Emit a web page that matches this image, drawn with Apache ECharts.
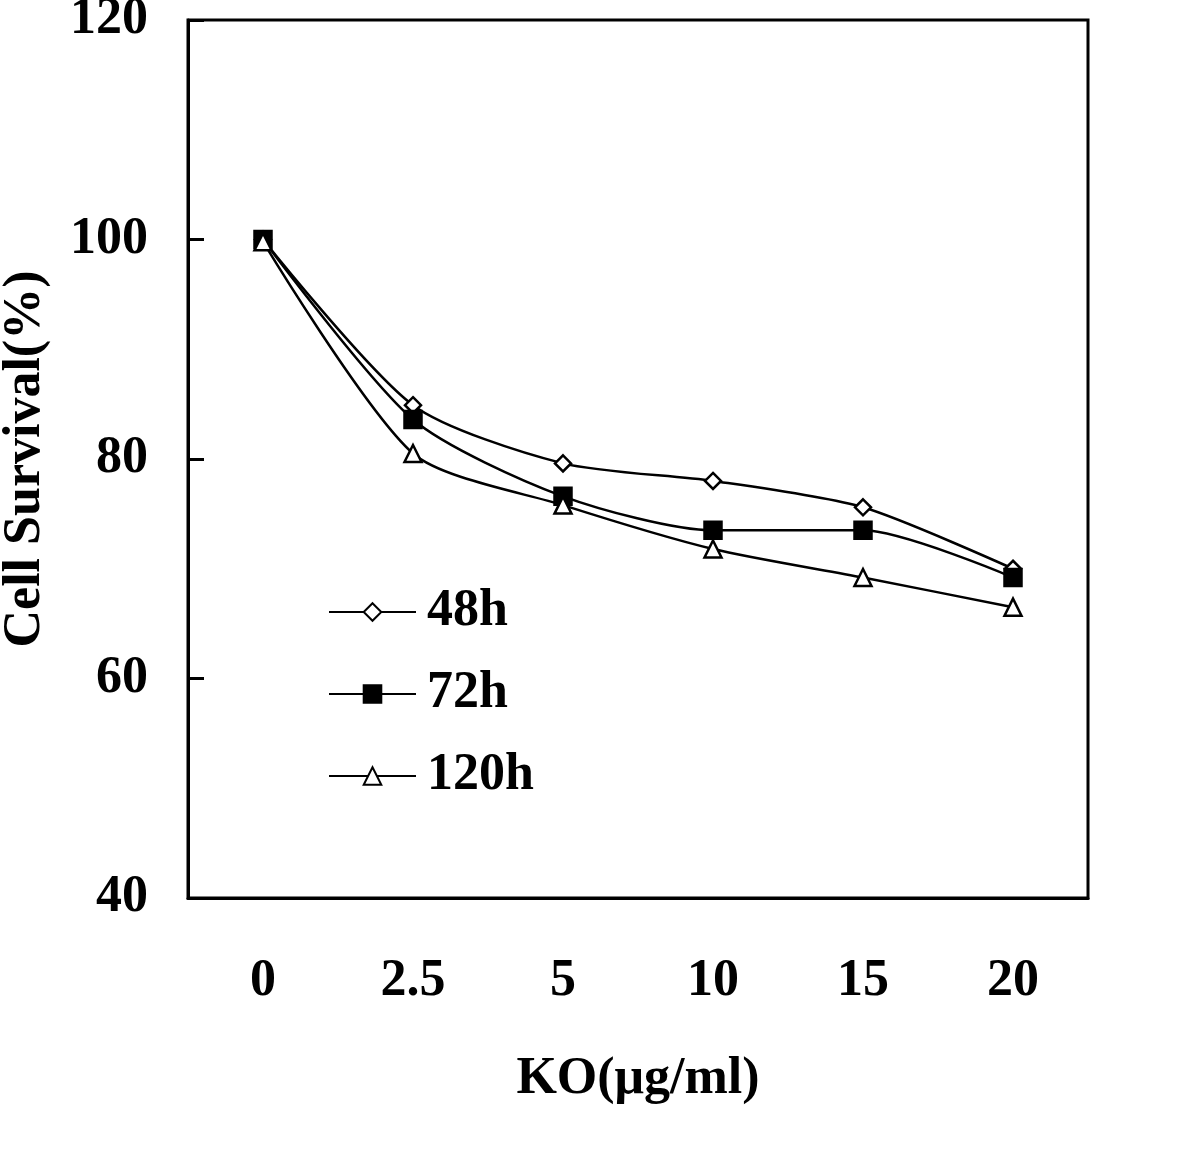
<!DOCTYPE html>
<html><head><meta charset="utf-8">
<script src="https://cdn.jsdelivr.net/npm/echarts@6/dist/echarts.min.js"></script>
<style>html,body{margin:0;padding:0;background:#fff}#c{width:1200px;height:1156px}</style>
</head><body><div id="c"></div>
<script>
const categories = ['0', '2.5', '5', '10', '15', '20'];
const s48 = [100, 84.9, 79.6, 78.0, 75.6, 70.0];
const s72 = [100, 83.6, 76.6, 73.5, 73.5, 69.2];
const s120 = [99.8, 80.5, 75.8, 71.8, 69.2, 66.5];
const yTicks = [40, 60, 80, 100, 120];

const FONT = '"Liberation Serif", "DejaVu Serif", serif';
const FS = 52;
const chart = echarts.init(document.getElementById('c'), null, {renderer: 'canvas'});
const lineStyle = {color: '#000', width: 2.5};
function ser(name, data, symbol, size, fill) {
  return {
    name, type: 'line', data, symbol, symbolSize: size, smooth: 0.25,
    lineStyle, itemStyle: {color: fill, borderColor: '#000', borderWidth: 2.5},
    emphasis: {disabled: true}, z: 3
  };
}
chart.setOption({
  animation: false,
  backgroundColor: '#fff',
  grid: {left: 188, right: 112, top: 20, bottom: 258, show: true, borderColor: '#000', borderWidth: 3, containLabel: false, outerBoundsMode: 'none'},
  legend: {
    orient: 'vertical', left: 328, top: 586, padding: 0, itemWidth: 87, itemHeight: 22, itemGap: 30,
    textStyle: {fontFamily: FONT, fontWeight: 'bold', fontSize: FS, lineHeight: 52, color: '#000', padding: [0,0,0,6]},
    data: ['48h', '72h', '120h']
  },
  xAxis: {
    type: 'category', data: categories, boundaryGap: true,
    name: 'KO(μg/ml)', nameLocation: 'middle', nameGap: 156,
    nameTextStyle: {fontFamily: FONT, fontWeight: 'bold', fontSize: FS, color: '#000'},
    axisLine: {lineStyle: {color: '#000', width: 3}},
    axisTick: {inside: true, length: 14, lineStyle: {color: '#000', width: 3}},
    axisLabel: {fontFamily: FONT, fontWeight: 'bold', fontSize: FS, color: '#000', margin: 58},
    splitLine: {show: false}
  },
  yAxis: {
    type: 'value', min: yTicks[0], max: yTicks[yTicks.length - 1], interval: 20,
    name: 'Cell Survival(%)', nameLocation: 'middle', nameGap: 136, nameRotate: 90,
    nameTextStyle: {fontFamily: FONT, fontWeight: 'bold', fontSize: FS, color: '#000'},
    axisLine: {show: true, lineStyle: {color: '#000', width: 3}},
    axisTick: {show: true, inside: true, length: 16, lineStyle: {color: '#000', width: 3}},
    axisLabel: {fontFamily: FONT, fontWeight: 'bold', fontSize: FS, color: '#000', margin: 40},
    splitLine: {show: false}
  },
  series: [
    ser('48h', s48, 'diamond', 16, '#fff'),
    ser('72h', s72, 'rect', 17, '#000'),
    ser('120h', s120, 'triangle', 17, '#fff')
  ]
});
</script></body></html>
